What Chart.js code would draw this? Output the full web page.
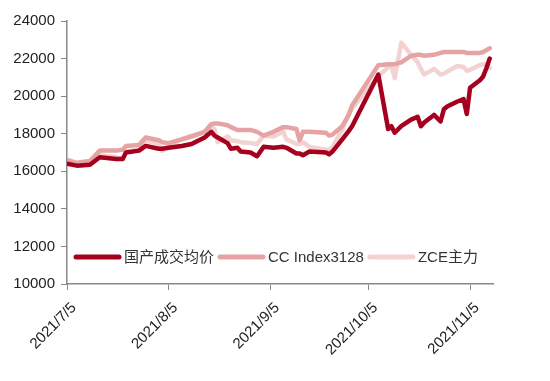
<!DOCTYPE html>
<html>
<head>
<meta charset="utf-8">
<script src="https://cdn.jsdelivr.net/npm/chart.js@4.4.1/dist/chart.umd.min.js"></script>
<style>
  html, body { margin: 0; padding: 0; background: #fff; }
  #wrap { width: 550px; height: 381px; }
</style>
</head>
<body>
<div id="wrap"><canvas id="price-chart"></canvas></div>
<script>
// trading dates shown on the chart
const tradeDates = [
  '2021-07-05','2021-07-08','2021-07-12','2021-07-15','2021-07-20','2021-07-22','2021-07-23','2021-07-27','2021-07-29','2021-08-02',
  '2021-08-03','2021-08-05','2021-08-09','2021-08-12','2021-08-16','2021-08-18','2021-08-19','2021-08-20','2021-08-23','2021-08-24',
  '2021-08-26','2021-08-27','2021-08-30','2021-09-01','2021-09-03','2021-09-06','2021-09-09','2021-09-10','2021-09-13','2021-09-14',
  '2021-09-15','2021-09-17','2021-09-22','2021-09-23','2021-09-24','2021-09-27','2021-09-29','2021-09-30','2021-10-08','2021-10-11',
  '2021-10-12','2021-10-13','2021-10-15','2021-10-18','2021-10-20','2021-10-21','2021-10-22','2021-10-25','2021-10-27','2021-10-28',
  '2021-10-29','2021-11-01','2021-11-03','2021-11-04','2021-11-05','2021-11-08','2021-11-09','2021-11-10','2021-11-11'
];

const domesticPrice = [
  16400,16300,16350,16750,16650,16650,17000,17100,17350,17200,
  17200,17250,17350,17450,17800,18100,17900,17800,17500,17200,
  17250,17050,17000,16800,17300,17250,17300,17250,16950,16950,
  16850,17050,17000,16900,17050,17700,18150,18400,21150,18250,
  18400,18050,18400,18750,18900,18400,18600,19000,18650,19300,
  19450,19700,19850,19050,20450,20850,21050,21500,22000
];

const ccIndex = [
  16600,16450,16550,17100,17100,17150,17350,17400,17800,17650,
  17550,17500,17700,17850,18100,18500,18550,18550,18450,18350,
  18200,18200,18200,18100,17900,18100,18350,18350,18250,17650,
  18100,18100,18050,17900,17950,18400,19000,19500,21650,21700,
  21700,21700,21800,22150,22200,22200,22150,22200,22300,22350,
  22350,22350,22350,22300,22300,22300,22350,22450,22550
];

const zceMain = [
  16450,16400,16450,16850,16750,16650,17050,17150,17650,17450,
  17100,17300,17700,17900,18100,18350,18250,17550,17850,17650,
  17600,17550,17500,17450,17900,17850,18100,17700,17450,17450,
  17550,17300,17150,17150,17300,18200,19100,19350,21050,21550,
  21650,20950,22850,22200,21800,21450,21150,21450,21150,21200,
  21300,21600,21550,21350,21400,21650,21700,21700,21500
];

const seriesNames = ['国产成交均价', 'CC Index3128', 'ZCE主力'];
const tickDates = ['2021-07-05', '2021-08-05', '2021-09-05', '2021-10-05', '2021-11-05'];
const tickLabels = ['2021/7/5', '2021/8/5', '2021/9/5', '2021/10/5', '2021/11/5'];

// days since the first date, so the x axis keeps real spacing
const start = Date.UTC(2021, 6, 5);
const toDay = (s) => {
  const p = s.split('-').map(Number);
  return Math.round((Date.UTC(p[0], p[1] - 1, p[2]) - start) / 86400000);
};
const toPoints = (vals) => vals.map((v, i) => ({ x: toDay(tradeDates[i]), y: v }));

const fontFamily = '"Liberation Sans", "Noto Sans CJK SC", sans-serif';

// legend sits inside the plot, near the bottom
const inlineLegend = {
  id: 'inlineLegend',
  afterDraw(chart) {
    const ctx = chart.ctx;
    ctx.save();
    ctx.font = '15px ' + fontFamily;
    ctx.textBaseline = 'middle';
    let x = 76;
    const y = 257;
    chart.data.datasets.forEach(ds => {
      ctx.strokeStyle = ds.borderColor;
      ctx.lineWidth = 5;
      ctx.lineCap = 'round';
      ctx.beginPath();
      ctx.moveTo(x, y);
      ctx.lineTo(x + 43, y);
      ctx.stroke();
      x += 48;
      ctx.fillStyle = '#333';
      ctx.fillText(ds.label, x, y + 1);
      x += ctx.measureText(ds.label).width + 6;
    });
    ctx.restore();
  }
};

new Chart(document.getElementById('price-chart'), {
  type: 'line',
  data: {
    datasets: [
      { label: seriesNames[0], data: toPoints(domesticPrice), borderColor: '#a5001e', borderWidth: 4.5 },
      { label: seriesNames[1], data: toPoints(ccIndex), borderColor: '#e6a3a3', borderWidth: 4.5 },
      { label: seriesNames[2], data: toPoints(zceMain), borderColor: '#f3d3d2', borderWidth: 4.5 }
    ]
  },
  options: {
    responsive: true,
    maintainAspectRatio: false,
    animation: false,
    elements: {
      point: { radius: 0 },
      line: { tension: 0, borderJoinStyle: 'round', borderCapStyle: 'round' }
    },
    layout: { padding: { left: 0, right: 57, top: 21, bottom: 0 } },
    plugins: {
      legend: { display: false },
      tooltip: { enabled: false }
    },
    scales: {
      x: {
        type: 'linear',
        min: 0,
        max: 130,
        afterBuildTicks: (scale) => {
          scale.ticks = tickDates.map(d => ({ value: toDay(d) }));
        },
        afterFit: (scale) => { scale.height = 97; },
        ticks: {
          autoSkip: false,
          minRotation: 45,
          maxRotation: 45,
          padding: 9,
          labelOffset: 7,
          color: '#222',
          font: { family: fontFamily, size: 15 },
          callback: (value, index) => tickLabels[index]
        },
        grid: { drawOnChartArea: false, tickLength: 6, color: '#888' },
        border: { color: '#888', width: 1.5 }
      },
      y: {
        min: 10000,
        max: 24000,
        afterFit: (scale) => { scale.width = 67; },
        ticks: {
          stepSize: 2000,
          color: '#222',
          padding: 6,
          font: { family: fontFamily, size: 15 },
          callback: (value) => String(value)
        },
        grid: { drawOnChartArea: false, tickLength: 6, color: '#888' },
        border: { color: '#888', width: 1.5 }
      }
    }
  },
  plugins: [inlineLegend]
});
</script>
</body>
</html>
